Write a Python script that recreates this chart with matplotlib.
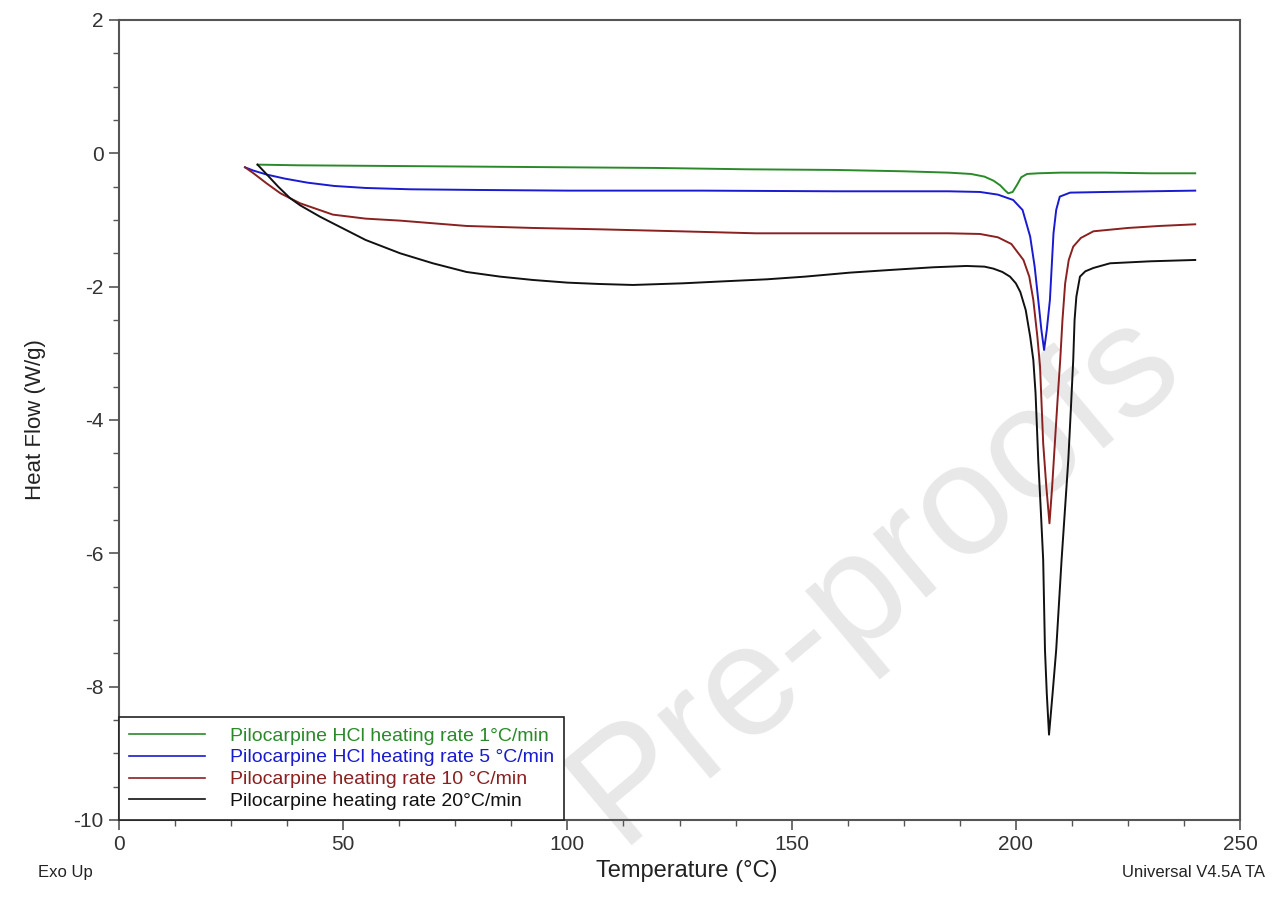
import numpy as np
import matplotlib
matplotlib.use("Agg")
from matplotlib import pyplot as plt
from matplotlib.ticker import MultipleLocator

plt.rcParams['font.family'] = ['Liberation Sans', 'DejaVu Sans']
plt.rcParams['axes.unicode_minus'] = False

# DSC traces, temperature (C) vs heat flow (W/g)
t_1 = [30.9, 40, 60, 80, 100, 120, 140, 160, 175, 185, 190, 193, 195, 196.5,
       197.5, 198.3, 199.3, 200.3, 201.2, 202.5, 205, 210, 220, 230, 240]
hf_1 = [-0.17, -0.18, -0.19, -0.2, -0.21, -0.22, -0.24, -0.25, -0.27, -0.29,
        -0.31, -0.35, -0.41, -0.48, -0.55, -0.6, -0.58, -0.47, -0.36, -0.31,
        -0.3, -0.29, -0.29, -0.3, -0.3]

t_5 = [28.1, 30, 33, 37, 42, 48, 55, 65, 80, 100, 130, 160, 185, 192, 196,
       199.4, 201.5, 203.2, 204.2, 205.0, 205.7, 206.3, 206.9, 207.6, 208.0,
       208.4, 209.0, 209.8, 212.1, 220, 230, 240]
hf_5 = [-0.21, -0.26, -0.32, -0.38, -0.44, -0.49, -0.52, -0.54, -0.55, -0.56,
        -0.56, -0.57, -0.57, -0.58, -0.62, -0.70, -0.85, -1.25, -1.7, -2.2,
        -2.65, -2.95, -2.65, -2.2, -1.7, -1.2, -0.85, -0.65, -0.59, -0.58,
        -0.57, -0.56]

t_10 = [28.1, 30, 32.9, 36, 40.4, 47.7, 55, 62.7, 77.5, 92.3, 107, 125, 142,
        165, 185, 192, 196, 199, 201.7, 203, 203.9, 204.8, 205.4, 206.1, 206.8,
        207.5, 208.1, 208.7, 209.4, 209.9, 210.4, 211.0, 211.8, 212.8, 214.5,
        217.3, 225, 232, 240]
hf_10 = [-0.21, -0.3, -0.45, -0.6, -0.75, -0.92, -0.98, -1.01, -1.09, -1.12,
         -1.14, -1.17, -1.2, -1.2, -1.2, -1.21, -1.26, -1.36, -1.6, -1.85,
         -2.2, -2.75, -3.2, -4.35, -5.0, -5.55, -5.0, -4.35, -3.6, -3.1, -2.5,
         -1.95, -1.6, -1.4, -1.27, -1.17, -1.12, -1.09, -1.065]

t_20 = [30.9, 33, 35.5, 38.1, 40.4, 44.8, 47.7, 55, 62.7, 70, 77.5, 85, 92.3,
        100, 107, 114.6, 125.8, 135, 144.5, 153, 163, 172, 181.5, 189, 193,
        195, 197, 198.7, 200, 201, 202.2, 203.2, 203.9, 204.4, 205.0, 205.6,
        206.1, 206.5, 206.9, 207.4, 208.2, 209.0, 210.2, 211.0, 211.7, 212.3,
        212.8, 213.1, 213.5, 214.3, 215.5, 217.3, 221, 230, 240]
hf_20 = [-0.17, -0.32, -0.5, -0.67, -0.78, -0.95, -1.05, -1.3, -1.5, -1.65,
         -1.78, -1.85, -1.9, -1.94, -1.96, -1.975, -1.95, -1.92, -1.89, -1.85,
         -1.79, -1.75, -1.71, -1.69, -1.7, -1.73, -1.78, -1.85, -1.95, -2.08,
         -2.35, -2.75, -3.1, -3.6, -4.6, -5.4, -6.1, -7.45, -8.1, -8.72, -8.1,
         -7.45, -6.1, -5.3, -4.6, -3.8, -3.1, -2.5, -2.15, -1.85, -1.77, -1.72,
         -1.65, -1.62, -1.6]

labels = ['Pilocarpine HCl heating rate 1°C/min',
          'Pilocarpine HCl heating rate 5 °C/min',
          'Pilocarpine heating rate 10 °C/min',
          'Pilocarpine heating rate 20°C/min']
colors = ['#2a8a2a', '#1a1ad0', '#8b2020', '#111111']

fig = plt.figure(figsize=(12.78, 8.99), dpi=100)
ax = fig.add_axes([0.0931, 0.0879, 0.8772, 0.8899])

for tx, hy, lab, c in zip([t_1, t_5, t_10, t_20], [hf_1, hf_5, hf_10, hf_20],
                          labels, colors):
    ax.plot(tx, hy, color=c, lw=1.4, label=lab, zorder=3)

ax.set_xlim(0, 250)
ax.set_ylim(-10, 2)
ax.xaxis.set_major_locator(MultipleLocator(50))
ax.xaxis.set_minor_locator(MultipleLocator(12.5))
ax.yaxis.set_major_locator(MultipleLocator(2))
ax.yaxis.set_minor_locator(MultipleLocator(0.5))
ax.tick_params(which='major', direction='out', length=7, width=1.2,
               color='#555555', labelsize=15, labelcolor='#333333', pad=4)
ax.tick_params(which='minor', direction='out', length=4, width=1.0,
               color='#555555')
for s in ax.spines.values():
    s.set_color('#555555')
    s.set_linewidth(1.5)

ax.set_ylabel('Heat Flow (W/g)', fontsize=16, color='#222222', labelpad=20)
fig.text(0.537, 0.019, 'Temperature (°C)', fontsize=17, color='#222222',
         ha='center', va='bottom')
fig.text(0.030, 0.021, 'Exo Up', fontsize=12, color='#222222', va='bottom')
fig.text(0.990, 0.021, 'Universal V4.5A TA', fontsize=12, color='#222222',
         ha='right', va='bottom')

leg = ax.legend(loc='lower left', borderaxespad=0, fancybox=False,
                edgecolor='#222222', framealpha=1, fontsize=14,
                handlelength=3.9, handletextpad=1.3, labelspacing=0.22,
                borderpad=0.5, labelcolor='linecolor')
leg.get_frame().set_linewidth(1.2)
for h in leg.get_lines():
    h.set_linewidth(1.2)

# watermark
ax.text(0.675, 0.305, 'Pre-proofs', transform=ax.transAxes, fontsize=114,
        color='#e8e8e8', rotation=40, ha='center', va='center',
        zorder=1, clip_on=False)

fig.savefig('out.png', dpi=100)
